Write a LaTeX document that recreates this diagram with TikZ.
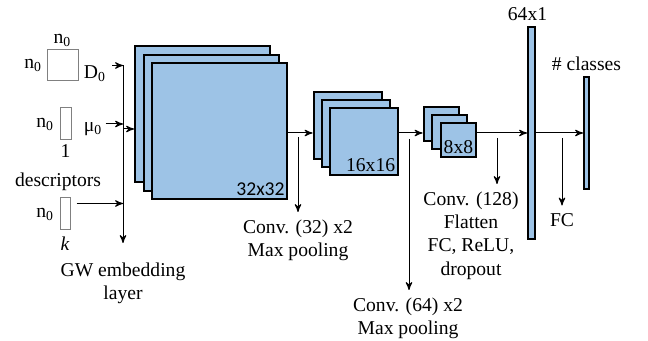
\documentclass[tikz,border=0pt]{standalone}
\usepackage{fontspec}
\setmainfont{Liberation Serif}
\newfontfamily\labfont{Liberation Serif}
\newfontfamily\dimsans{Carlito}
\usetikzlibrary{arrows,positioning}
\definecolor{mapblue}{HTML}{9DC3E6}

\begin{document}
\begin{tikzpicture}[x=0.5pt,y=-0.5pt,>=stealth',
    font=\labfont\fontsize{9.8}{11.6}\selectfont,
    fmap/.style={draw=black,line width=1pt,fill=mapblue,inner sep=0pt},
    map32/.style={fmap,minimum width=67.5pt,minimum height=68pt},
    map16/.style={fmap,minimum width=34pt,minimum height=33.5pt},
    map8/.style={fmap,minimum width=17.5pt,minimum height=17pt},
    inbox/.style={draw=black!50,line width=0.5pt,fill=white,inner sep=0pt},
    dim/.style={anchor=south east,inner xsep=1.5pt,inner ysep=2pt},
    txt/.style={inner sep=0pt},
    lbl/.style={align=center,inner sep=0pt,outer sep=4pt,anchor=north},
    flow/.style={->,line width=0.5pt}]
  \useasboundingbox (0,0) rectangle (648,341);

  % input matrices
  \node[inbox,minimum size=15.5pt]                     (D0)   at (62.5,65.5) {};
  \node[inbox,minimum width=5.5pt,minimum height=16pt] (mu)   at (65.5,124)  {};
  \node[inbox,minimum width=5pt,minimum height=16pt]   (desc) at (65,214)    {};

  \node[txt,above=1pt of D0]                  (D0top)  {n\textsubscript{0}};
  \node[txt,left=2pt of D0]                   (D0left) {n\textsubscript{0}};
  \node[txt,right=2.5pt of D0,yshift=-4.25pt] (D0lab)  {D\textsubscript{0}};
  \node[txt,left=2.5pt of mu]                 (muleft) {n\textsubscript{0}};
  \node[txt,right=6pt of mu,yshift=-2.5pt]    (mulab)  {μ\textsubscript{0}};
  \node[txt,below=2pt of mu]                  (mubot)  {1};
  \node[txt,left=2.5pt of desc]               (dleft)  {n\textsubscript{0}};
  \node[txt,below=3pt of desc]                (dbot)   {\textit{k}};
  \node[txt,above=3pt of desc,xshift=-3.5pt]  (dlab)   {descriptors};

  % GW embedding bus
  \coordinate (bus)  at (123,65.5);
  \coordinate (join) at (123,129);
  \node[lbl,outer sep=10pt] (gw) at (123,243) {GW embedding\\layer};

  \draw[flow,shorten <=3pt] (D0lab.east |- D0) -- (bus);
  \draw[flow,shorten <=1.5pt] (mulab.east |- mu) -- (bus |- mu);
  \draw[flow] ([shift={(3pt,-3pt)}]desc.north east) coordinate (dsrc) -- (dsrc -| bus);
  \draw[flow] (bus) -- (gw.north);

  % feature maps
  \node[map32] (b32a) at (202.5,114.5) {};
  \node[map32] (b32b) at ([shift={(4.25pt,-4.25pt)}]b32a) {};
  \node[map32] (b32c) at ([shift={(4.25pt,-4.25pt)}]b32b) {};
  \node[dim,font=\dimsans\fontsize{9.8}{11}\selectfont] (d32) at (b32c.south east) {32x32};

  \node[map16] (b16a) at (347.5,126) {};
  \node[map16] (b16b) at ([shift={(4pt,-4pt)}]b16a) {};
  \node[map16] (b16c) at ([shift={(4pt,-4pt)}]b16b) {};
  \node[dim] (d16) at (b16c.south east) {16x16};

  \node[map8] (b8a) at (441,124) {};
  \node[map8] (b8b) at ([shift={(4.25pt,-4pt)}]b8a) {};
  \node[map8] (b8c) at ([shift={(4.25pt,-4pt)}]b8b) {};
  \node[dim] (d8) at (b8c.south east) {8x8};

  % dense layers
  \node[fmap,minimum width=3.5pt,minimum height=106pt] (bar64)  at (531.5,133) {};
  \node[fmap,minimum width=2.5pt,minimum height=56pt]  (barcls) at (586.5,133) {};
  \node[txt,above=2.5pt of bar64,xshift=-2pt] (n64)  {64x1};
  \node[txt,above=2.5pt of barcls]            (ncls) {\# classes};

  \path[flow] (join)               edge (join -| b32a.west)
              (b32c.east |- bar64) edge (b16a.west |- bar64)
              (b16c.east |- bar64) edge (b8a.west |- bar64)
              (b8c.east |- bar64)  edge (bar64.west)
              (bar64.east)         edge (barcls.west);

  % operations
  \coordinate (tap32)  at (298,137);
  \coordinate (tap64)  at (409,139);
  \coordinate (tap128) at (497,138);
  \coordinate (tapfc)  at (562,138);

  \node[lbl] (conv32)  at (298,212)   {Conv. (32) x2\\Max pooling};
  \node[lbl] (conv64)  at (408,290)   {Conv. (64) x2\\Max pooling};
  \node[lbl] (conv128) at (471,184)   {Conv. (128)\\Flatten\\FC, ReLU,\\dropout};
  \node[lbl] (fc)      at (562,205.5) {FC};

  \draw[flow] (tap32)  -- (tap32 |- conv32.north);
  \draw[flow] (tap64)  -- (tap64 |- conv64.north);
  \draw[flow] (tap128) -- (tap128 |- conv128.north);
  \draw[flow] (tapfc)  -- (fc.north);
\end{tikzpicture}
\end{document}
